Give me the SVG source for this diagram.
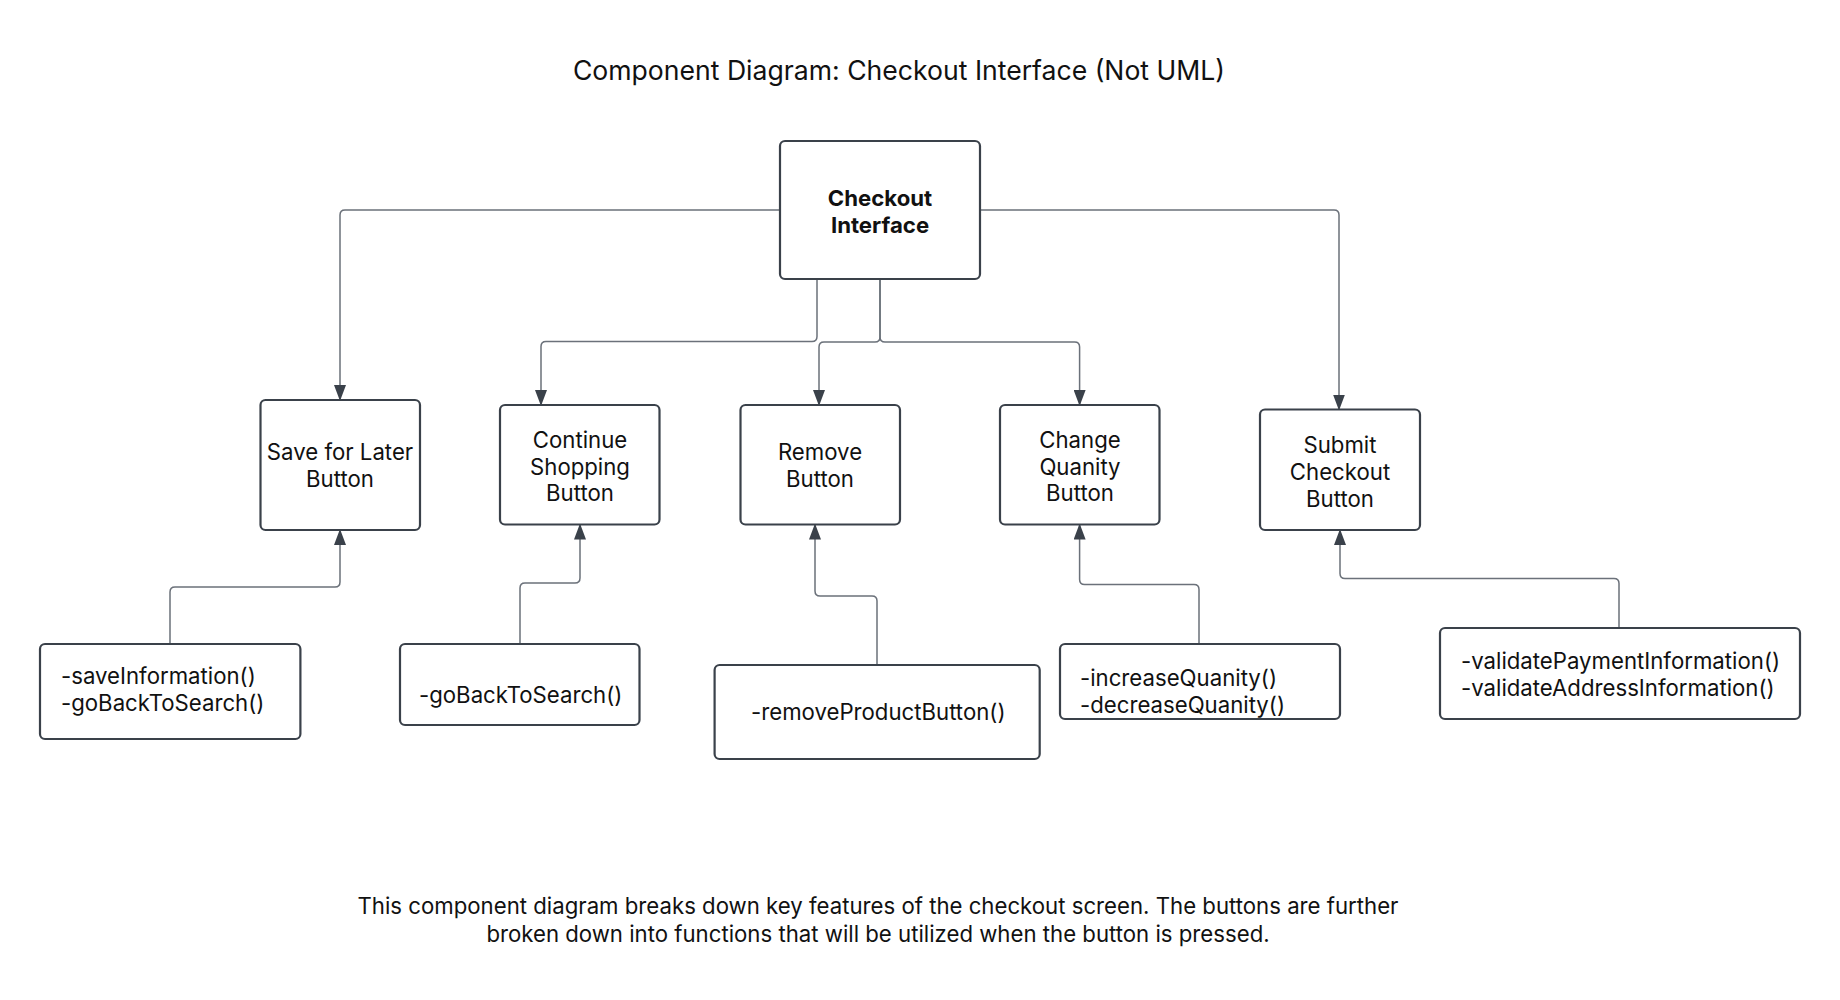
<svg xmlns="http://www.w3.org/2000/svg" width="1840" height="1000" viewBox="0 0 1840 1000">
<style>
.box{fill:#fff;stroke:#3a414a;stroke-width:2.2}
.lbl{font-family:Inter,"Noto Sans","Liberation Sans",sans-serif;font-size:22.2px;fill:#111;text-anchor:middle}
.fn{font-family:Inter,"Noto Sans","Liberation Sans",sans-serif;font-size:22.2px;fill:#111}
.title{font-family:Inter,"Noto Sans","Liberation Sans",sans-serif;font-size:26.6px;fill:#111;text-anchor:middle}
.note{font-family:Inter,"Noto Sans","Liberation Sans",sans-serif;font-size:22.2px;fill:#111;text-anchor:middle}
.con{fill:none;stroke:#6b717a;stroke-width:1.5;marker-end:url(#arr)}
</style>
<defs>
<marker id="arr" viewBox="0 0 16 12" refX="15" refY="6" markerWidth="16" markerHeight="12" markerUnits="userSpaceOnUse" orient="auto">
<path d="M0,0 L16,6 L0,12 Z" fill="#3a414a"/>
</marker>
</defs>
<rect width="1840" height="1000" fill="#fff"/>
<text class="title" x="899" y="80">Component Diagram: Checkout Interface (Not UML)</text>

<g id="connectors">
<path class="con" d="M780,210 H345 Q340,210 340,215 V400"/>
<path class="con" d="M980,210 H1334 Q1339,210 1339,215 V409.5"/>
<path class="con" d="M817,279 V336.5 Q817,341.5 812,341.5 H546 Q541,341.5 541,346.5 V405"/>
<path class="con" d="M880,279 V337 Q880,342 875,342 H824 Q819,342 819,347 V405"/>
<path class="con" d="M880,279 V337 Q880,342 885,342 H1074.6 Q1079.6,342 1079.6,347 V405"/>
<path class="con" d="M170,644 V592 Q170,587 175,587 H335 Q340,587 340,582 V530"/>
<path class="con" d="M520,644 V588 Q520,583 525,583 H575 Q580,583 580,578 V524.5"/>
<path class="con" d="M877,665 V601 Q877,596 872,596 H820 Q815,596 815,591 V524.5"/>
<path class="con" d="M1199,644 V589.4 Q1199,584.4 1194,584.4 H1084.6 Q1079.6,584.4 1079.6,579.4 V524.5"/>
<path class="con" d="M1619,628 V583.5 Q1619,578.5 1614,578.5 H1345 Q1340,578.5 1340,573.5 V530"/>
</g>

<g id="checkout">
<rect class="box" x="780" y="141" width="200" height="138" rx="5"/>
<text class="lbl" x="880" y="206" font-weight="bold">Checkout</text>
<text class="lbl" x="880" y="233" font-weight="bold">Interface</text>
</g>
<g id="save">
<rect class="box" x="260.5" y="400" width="159.5" height="130" rx="5"/>
<text class="lbl" x="340" y="460">Save for Later</text>
<text class="lbl" x="340" y="487">Button</text>
</g>
<g id="continue">
<rect class="box" x="500" y="405" width="159.5" height="119.5" rx="5"/>
<text class="lbl" x="580" y="448">Continue</text>
<text class="lbl" x="580" y="475">Shopping</text>
<text class="lbl" x="580" y="501">Button</text>
</g>
<g id="remove">
<rect class="box" x="740.5" y="405" width="159.5" height="119.5" rx="5"/>
<text class="lbl" x="820" y="460">Remove</text>
<text class="lbl" x="820" y="487">Button</text>
</g>
<g id="change">
<rect class="box" x="1000" y="405" width="159.5" height="119.5" rx="5"/>
<text class="lbl" x="1080" y="448">Change</text>
<text class="lbl" x="1080" y="475">Quanity</text>
<text class="lbl" x="1080" y="501">Button</text>
</g>
<g id="submit">
<rect class="box" x="1260" y="409.5" width="160" height="120.5" rx="5"/>
<text class="lbl" x="1340" y="453">Submit</text>
<text class="lbl" x="1340" y="480">Checkout</text>
<text class="lbl" x="1340" y="507">Button</text>
</g>

<g id="saveFns">
<rect class="box" x="40" y="644" width="260.4" height="95" rx="5"/>
<text class="fn" x="61" y="684">-saveInformation()</text>
<text class="fn" x="61" y="711">-goBackToSearch()</text>
</g>
<g id="continueFns">
<rect class="box" x="400" y="644" width="239.5" height="81" rx="5"/>
<text class="fn" x="419" y="703">-goBackToSearch()</text>
</g>
<g id="removeFns">
<rect class="box" x="714.6" y="665" width="325.1" height="94" rx="5"/>
<text class="fn" x="751" y="720">-removeProductButton()</text>
</g>
<g id="changeFns">
<rect class="box" x="1060" y="644" width="280" height="75" rx="5"/>
<text class="fn" x="1080" y="686">-increaseQuanity()</text>
<text class="fn" x="1080" y="713">-decreaseQuanity()</text>
</g>
<g id="submitFns">
<rect class="box" x="1440" y="628" width="360" height="91" rx="5"/>
<text class="fn" x="1461" y="669">-validatePaymentInformation()</text>
<text class="fn" x="1461" y="696">-validateAddressInformation()</text>
</g>

<text class="note" x="878" y="914">This component diagram breaks down key features of the checkout screen. The buttons are further</text>
<text class="note" x="878" y="942">broken down into functions that will be utilized when the button is pressed.</text>
</svg>
